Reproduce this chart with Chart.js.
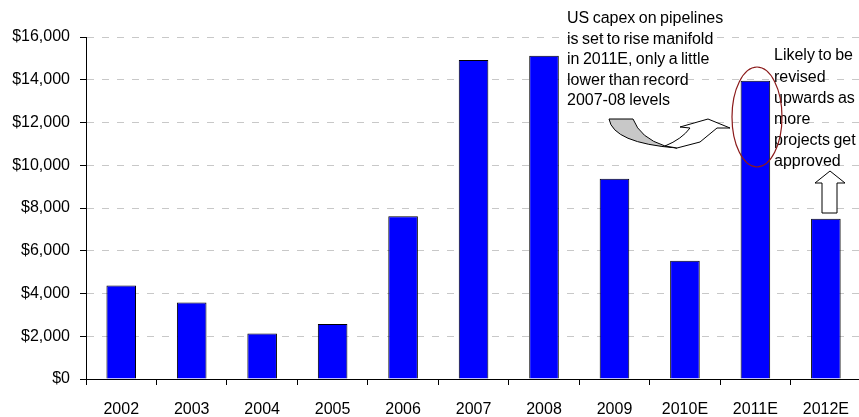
<!DOCTYPE html>
<html>
<head>
<meta charset="utf-8">
<script src="https://cdn.jsdelivr.net/npm/chart.js@4/dist/chart.umd.min.js"></script>
<style>
  html, body { margin: 0; padding: 0; background: #fff; overflow: hidden; }
  /* plot runs a few pixels past the right edge of the page */
  #wrap { width: 864px; height: 417px; position: relative; }
</style>
</head>
<body>
<div id="wrap"><canvas id="capex-chart"></canvas></div>
<script>
const years = ["2002", "2003", "2004", "2005", "2006", "2007", "2008", "2009", "2010E", "2011E", "2012E"];
const capex = [4380, 3580, 2130, 2570, 7610, 14920, 15120, 9370, 5530, 13950, 7500];
const yMin = 0;
const yMax = 16000;
const yStep = 2000;

const noteLeft = [
  "US capex on pipelines",
  "is set to rise manifold",
  "in 2011E, only a little",
  "lower than record",
  "2007-08 levels",
];
const noteRight = ["Likely to be", "revised", "upwards as", "more", "projects get", "approved"];

const FONT = "Liberation Sans, Arial, sans-serif";

// callouts, arrows and the ring round 2011E
const notes = {
  id: "notes",
  afterDraw(chart) {
    const ctx = chart.ctx;
    ctx.save();

    // grey half of the curved arrow
    ctx.beginPath();
    ctx.moveTo(609, 119);
    ctx.lineTo(633, 119);
    ctx.quadraticCurveTo(640, 138, 665, 146);
    ctx.lineTo(677, 148);
    ctx.quadraticCurveTo(613, 143, 609, 119);
    ctx.closePath();
    ctx.fillStyle = "#c8c8c8";
    ctx.fill();
    ctx.strokeStyle = "#000";
    ctx.lineWidth = 1;
    ctx.stroke();

    // white half with the head
    ctx.beginPath();
    ctx.moveTo(665, 146);
    ctx.quadraticCurveTo(682, 139, 690, 128);
    ctx.lineTo(680, 127);
    ctx.lineTo(708, 119);
    ctx.lineTo(730, 128);
    ctx.lineTo(717, 128);
    ctx.lineTo(700, 142);
    ctx.lineTo(677, 148);
    ctx.closePath();
    ctx.fillStyle = "#fff";
    ctx.fill();
    ctx.stroke();

    // up arrow over 2012E
    ctx.beginPath();
    ctx.moveTo(830, 171);
    ctx.lineTo(845, 183);
    ctx.lineTo(837, 183);
    ctx.lineTo(837, 213);
    ctx.lineTo(822, 213);
    ctx.lineTo(822, 183);
    ctx.lineTo(815, 183);
    ctx.closePath();
    ctx.fillStyle = "#fff";
    ctx.fill();
    ctx.stroke();

    ctx.fillStyle = "#000";
    ctx.font = "16px " + FONT;
    ctx.wordSpacing = "-1px";
    ctx.textAlign = "left";
    ctx.textBaseline = "middle";
    noteLeft.forEach((line, i) => ctx.fillText(line, 567, 19 + i * 20.5));
    noteRight.forEach((line, i) => ctx.fillText(line, 774, 56 + i * 21.1));

    // ring
    ctx.beginPath();
    ctx.ellipse(757, 117, 25, 50, 0, 0, Math.PI * 2);
    ctx.strokeStyle = "#8b1a1a";
    ctx.lineWidth = 1.2;
    ctx.stroke();

    ctx.restore();
  },
};

new Chart(document.getElementById("capex-chart"), {
  type: "bar",
  data: {
    labels: years,
    datasets: [
      {
        data: capex,
        backgroundColor: "#0000ff",
        borderColor: "#000",
        borderWidth: 1,
        barPercentage: 0.42,
        categoryPercentage: 1,
      },
    ],
  },
  options: {
    responsive: true,
    maintainAspectRatio: false,
    animation: false,
    layout: { padding: { top: 37, right: 0, left: 0, bottom: 0 } },
    plugins: {
      legend: { display: false },
      tooltip: { enabled: false },
    },
    scales: {
      x: {
        afterFit: (scale) => { scale.height = 38; },
        grid: {
          offset: true,
          drawOnChartArea: false,
          drawTicks: true,
          tickLength: 6,
          tickColor: "#000",
        },
        border: { color: "#000", width: 1 },
        ticks: {
          color: "#000",
          font: { family: FONT, size: 16 },
          padding: 15,
          maxRotation: 0,
          autoSkip: false,
        },
      },
      y: {
        min: yMin,
        max: yMax,
        afterFit: (scale) => { scale.width = 86; },
        grid: {
          color: "#c8c8c8",
          tickColor: "#000",
          tickLength: 6,
          tickBorderDash: [],
        },
        border: { color: "#000", width: 1, dash: [7, 8] },
        ticks: {
          stepSize: yStep,
          color: "#000",
          font: { family: FONT, size: 16 },
          padding: 10,
          callback: (v) => "$" + Number(v).toLocaleString("en-US"),
        },
      },
    },
  },
  plugins: [notes],
});
</script>
</body>
</html>
